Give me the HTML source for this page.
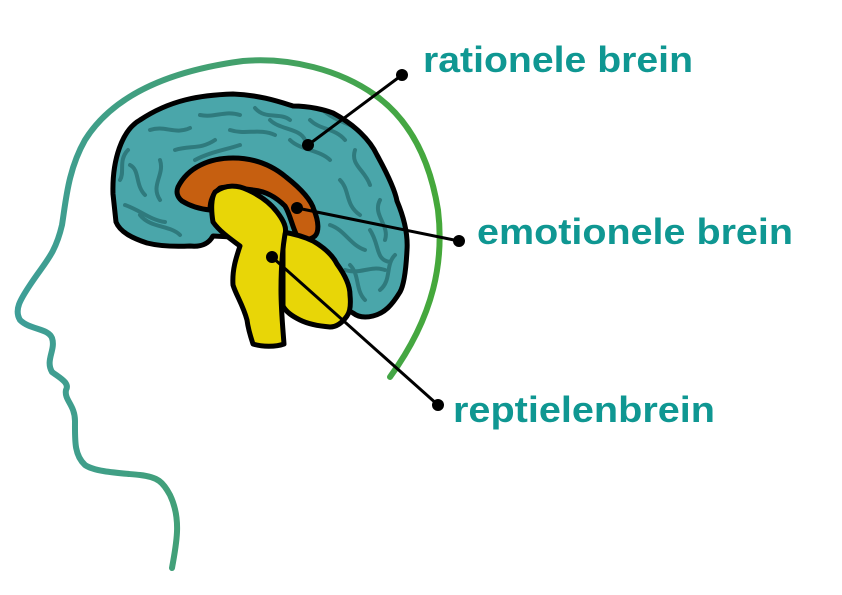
<!DOCTYPE html>
<html><head><meta charset="utf-8"><style>
html,body{margin:0;padding:0;background:#fff;width:842px;height:595px;overflow:hidden}
svg{display:block}
text{font-family:"Liberation Sans",sans-serif;font-weight:bold;fill:#0f9792}
</style></head><body>
<svg width="842" height="595" viewBox="0 0 842 595" xmlns="http://www.w3.org/2000/svg">
<defs>
<linearGradient id="hg" x1="0" y1="0" x2="1" y2="0">
<stop offset="0" stop-color="#3e9e98"/><stop offset="0.5" stop-color="#43a06e"/><stop offset="1" stop-color="#45a83a"/>
</linearGradient>
<clipPath id="bc"><path id="bp" d="M113,194 C112,160 122,130 140,120 C170,100 200,95 233,94 C260,95 280,102 293,106 C310,106 325,110 333,113 C355,125 370,140 377,155 C388,175 395,190 397,201 C405,220 408,235 407,250 C406,270 404,285 400,292 C392,305 385,313 373,316 C365,318 358,317 353,313 L330,300 L290,240 L213,236 C208,245 200,247 190,246 C170,247 155,245 147,243 C132,238 120,232 116,222 Z"/></clipPath>
</defs>
<path d="M172,568 C176,545 182,520 170,495 C163,482 158,477 140,475 C120,473 95,472 85,465 C74,455 75,440 75,421 C75,405 64,400 66,390 C70,383 60,378 52,372 C45,360 56,350 52,338 C48,328 30,330 20,320 C14,310 20,300 30,285 C45,262 55,255 62,225 C66,200 68,170 85,140 C110,100 160,72 243,61 C290,57 340,70 375,95 C410,120 430,160 438,210 C444,260 435,315 390,377" fill="none" stroke="url(#hg)" stroke-width="6" stroke-linecap="round"/>
<!-- cerebrum -->
<path d="M113,194 C112,160 122,130 140,120 C170,100 200,95 233,94 C260,95 280,102 293,106 C310,106 325,110 333,113 C355,125 370,140 377,155 C388,175 395,190 397,201 C405,220 408,235 407,250 C406,270 404,285 400,292 C392,305 385,313 373,316 C365,318 358,317 353,313 L330,300 L290,240 L213,236 C208,245 200,247 190,246 C170,247 155,245 147,243 C132,238 120,232 116,222 Z" fill="#4aa6aa"/>
<g fill="none" stroke="#2f7a7d" stroke-width="4" stroke-linecap="round" clip-path="url(#bc)">
<path d="M150,130 C165,125 175,135 190,128 M200,115 C215,118 225,110 240,115 M255,108 C265,120 280,112 290,120 M310,120 C320,130 335,128 345,140 M355,150 C350,165 365,170 370,185 M380,200 C372,215 390,225 385,240 M395,255 C385,265 392,280 380,290 M365,300 C355,290 360,275 350,265 M130,165 C140,170 135,185 145,195 M125,205 C140,210 150,220 165,222 M160,200 C150,185 165,175 160,160 M175,150 C190,145 200,150 215,140 M230,130 C245,135 260,128 275,135 M290,140 C300,150 320,150 330,160 M340,180 C350,190 345,205 360,215 M330,225 C345,230 350,245 365,250 M345,270 C360,275 370,265 385,270 M120,180 C125,172 118,160 128,150 M240,145 C225,150 210,152 195,160 M325,112 C335,120 345,122 360,130 M370,230 C380,245 375,260 390,262 M140,215 C150,228 170,225 180,235 M270,120 C280,130 300,128 305,140"/>
</g>
<path d="M113,194 C112,160 122,130 140,120 C170,100 200,95 233,94 C260,95 280,102 293,106 C310,106 325,110 333,113 C355,125 370,140 377,155 C388,175 395,190 397,201 C405,220 408,235 407,250 C406,270 404,285 400,292 C392,305 385,313 373,316 C365,318 358,317 353,313 L330,300 L290,240 L213,236 C208,245 200,247 190,246 C170,247 155,245 147,243 C132,238 120,232 116,222 Z" fill="none" stroke="#000" stroke-width="5" stroke-linejoin="round"/>
<!-- orange -->
<path d="M178,187 C188,167 210,158 233,158 C257,158 274,167 286,177 C300,188 311,199 314,210 C319,222 319,232 315,236 C309,241 301,240 297,236 C292,226 290,214 285,206 C276,197 265,191 253,190 C240,188 228,186 220,188 C213,194 210,200 210,210 C200,209 190,206 182,201 C177,197 176,192 178,187 Z" fill="#c65f10" stroke="#000" stroke-width="5" stroke-linejoin="round"/>
<!-- cerebellum -->
<path d="M283,232 C295,234 305,237 313,241 C325,248 333,256 337,264 C345,275 350,285 350,295 C351,305 350,312 347,316 C342,323 336,327 330,327 C318,326 308,324 300,320 C292,316 286,312 283,306 Z" fill="#e8d607" stroke="#000" stroke-width="5" stroke-linejoin="round"/>
<!-- brainstem -->
<path d="M215,192 C226,184 238,185 248,190 C261,196 271,204 277,212 C284,221 287,228 285,234 C282,252 281,270 281,290 C281,310 283,330 284,344 C276,347 262,347 253,344 C250,335 248,328 247,320 C243,305 236,295 233,285 C232,270 236,258 240,246 C232,240 220,232 213,222 C211,210 211,198 215,192 Z" fill="#e8d607" stroke="#000" stroke-width="5" stroke-linejoin="round"/>
<!-- connectors -->
<g stroke="#000" stroke-width="3" fill="#000">
<line x1="402" y1="75" x2="308" y2="145"/>
<line x1="297" y1="208" x2="459" y2="241"/>
<line x1="272" y1="257" x2="438" y2="405"/>
<circle cx="402" cy="75" r="6" stroke="none"/>
<circle cx="308" cy="145" r="6" stroke="none"/>
<circle cx="297" cy="208" r="6" stroke="none"/>
<circle cx="459" cy="241" r="6" stroke="none"/>
<circle cx="272" cy="257" r="6" stroke="none"/>
<circle cx="438" cy="405" r="6" stroke="none"/>
</g>
<text x="423" y="72" font-size="36" textLength="270" lengthAdjust="spacingAndGlyphs">rationele brein</text>
<text x="477" y="244" font-size="36" textLength="316" lengthAdjust="spacingAndGlyphs">emotionele brein</text>
<text x="453" y="422" font-size="36" textLength="262" lengthAdjust="spacingAndGlyphs">reptielenbrein</text>
</svg>
</body></html>
